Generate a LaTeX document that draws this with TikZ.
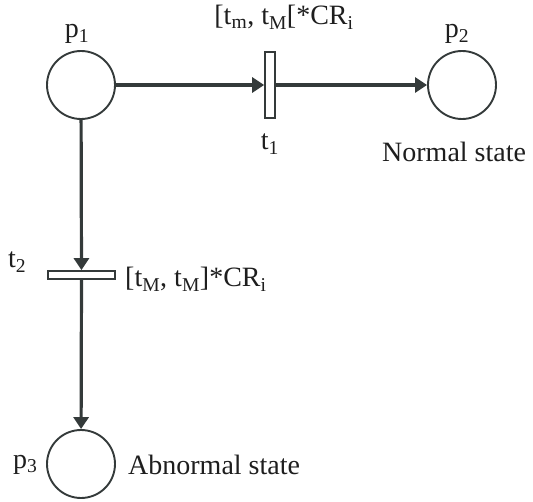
\documentclass[tikz,border=0pt]{standalone}
\usepackage{fontspec}
\setmainfont{Liberation Serif}
\usetikzlibrary{arrows.meta}
\definecolor{linec}{RGB}{52,58,58}
\definecolor{textc}{RGB}{30,30,30}
\begin{document}
\begin{tikzpicture}[x=1pt,y=-1pt,
  place/.style={circle,draw=linec,line width=1.9pt,minimum size=68pt,inner sep=0pt},
  transv/.style={rectangle,draw=linec,line width=1.7pt,minimum width=10pt,minimum height=66pt,inner sep=0pt},
  transh/.style={rectangle,draw=linec,line width=1.7pt,minimum width=67pt,minimum height=8pt,inner sep=0pt},
  arc/.style={draw=linec,line width=3.2pt,-{Triangle[length=12pt,width=15pt]}},
  lbl/.style={text=textc,inner sep=0pt,font=\fontsize{28}{32}\selectfont}]
\useasboundingbox (0,0) rectangle (533,502);
\node[place] (p1) at (81,85) {};
\node[place] (p2) at (462,85) {};
\node[place] (p3) at (81,464) {};
\node[transv] (t1) at (270,85) {};
\node[transh] (t2) at (81.5,275) {};
\draw[arc] (p1) -- (t1);
\draw[arc] (t1) -- (p2);
\draw[arc] (p1) -- (t2);
\draw[arc] (t2) -- (p3);
\node[lbl,anchor=base] (lp1) at (77,38) {p\textsubscript{1}};
\node[lbl,anchor=base] (lp2) at (457,38) {p\textsubscript{2}};
\node[lbl,anchor=base west] (lp3) at (13,468) {p\textsubscript{3}};
\node[lbl,anchor=base] (lt1) at (270,150) {t\textsubscript{1}};
\node[lbl,anchor=base west] (lt2) at (8,268) {t\textsubscript{2}};
\node[lbl,anchor=base] (ft1) at (284,25) {[t\textsubscript{m}, t\textsubscript{M}[*CR\textsubscript{i}};
\node[lbl,anchor=base west] (ft2) at (125,287) {[t\textsubscript{M}, t\textsubscript{M}]*CR\textsubscript{i}};
\node[lbl,anchor=base west] (ns) at (382,162) {Normal state};
\node[lbl,anchor=base west] (as) at (128,475) {Abnormal state};
\end{tikzpicture}
\end{document}
